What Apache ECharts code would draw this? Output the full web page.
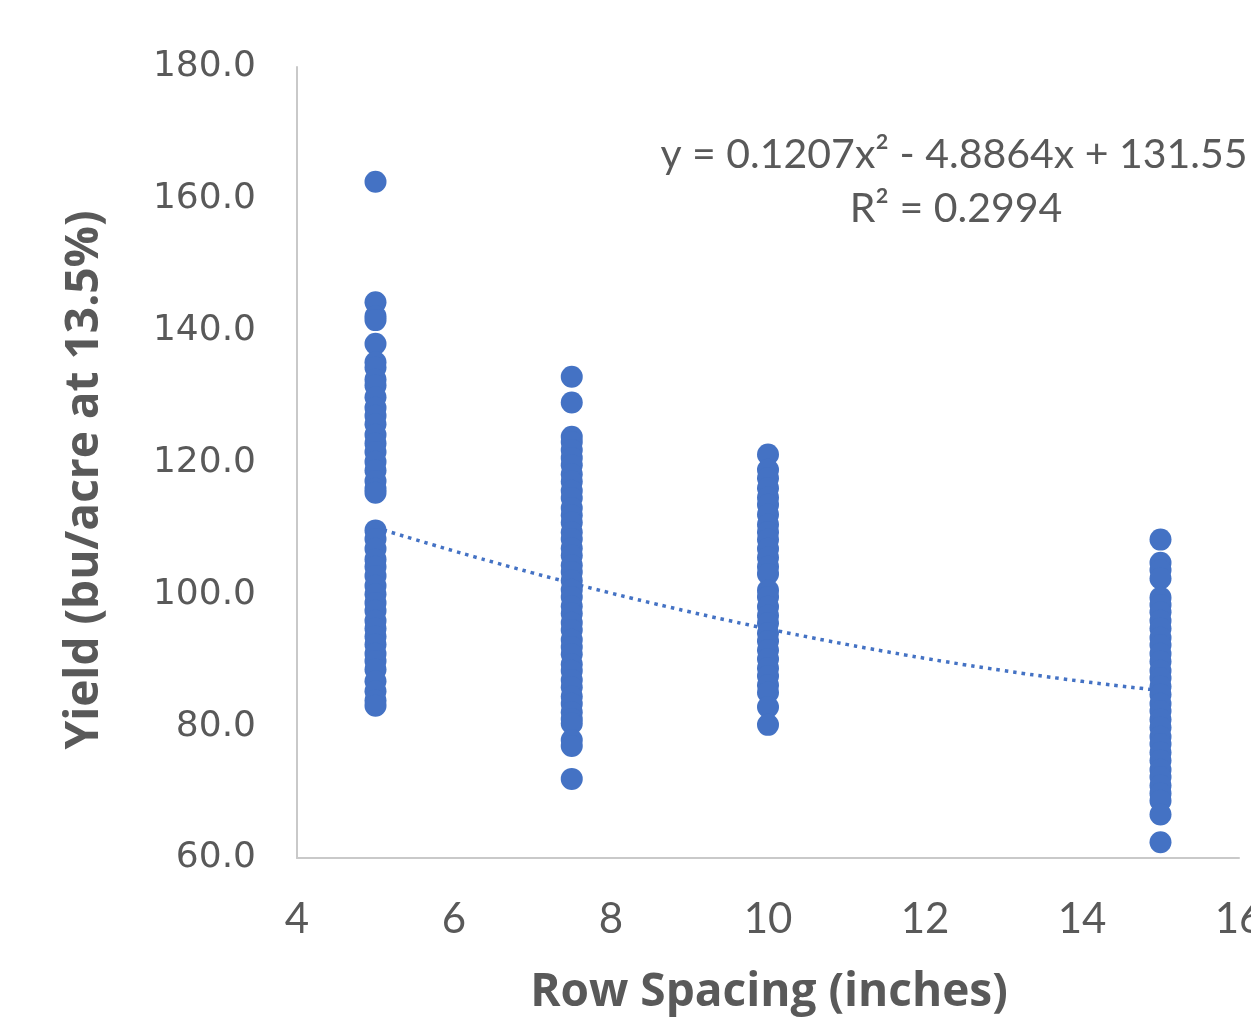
<!DOCTYPE html>
<html>
<head>
<meta charset="utf-8">
<script src="https://cdn.jsdelivr.net/npm/echarts@6/dist/echarts.min.js"></script>
<style>
  html, body { margin: 0; padding: 0; background: #fff; }
  #chart { width: 1251px; height: 1027px; }
</style>
</head>
<body>
<div id="chart"></div>
<script>
  // row spacing (inches) and the yields measured at each spacing
  const rowSpacing = [5, 7.5, 10, 15]
  const yield5 = [162.6, 144.3, 142.2, 141.6, 138.0, 135.2, 134.4, 132.6, 131.7, 129.9, 128.3, 127.1, 125.8, 124.2,
    122.9, 121.6, 120.1, 118.8, 117.2, 116.0, 115.4, 109.7, 108.4, 106.9, 105.3, 104.2, 102.8, 101.3, 100.0, 98.7,
    97.5, 96.0, 94.8, 93.6, 92.4, 91.0, 89.9, 88.6, 86.8, 85.3, 83.9, 83.1]
  const yield7_5 = [133.0, 129.1, 123.9, 123.1, 121.9, 120.7, 119.6, 118.2, 117.1, 115.7, 114.6, 113.1, 112.0, 110.9,
    109.4, 108.4, 107.0, 105.9, 104.4, 103.4, 102.1, 100.7, 99.6, 98.2, 97.1, 95.7, 94.6, 93.1, 92.0, 90.9, 89.4,
    88.4, 87.0, 85.9, 84.5, 83.4, 82.1, 81.1, 80.4, 77.9, 77.0, 72.0]
  const yield10 = [121.2, 118.9, 117.6, 116.1, 114.7, 113.6, 112.1, 110.6, 109.4, 108.3, 106.9, 105.6, 104.2, 103.1,
    100.6, 99.6, 98.1, 96.8, 95.6, 94.1, 92.9, 91.5, 90.2, 88.8, 87.6, 86.2, 85.1, 82.9, 80.2]
  const yield15 = [108.3, 104.8, 103.7, 102.4, 99.5, 98.4, 97.3, 96.0, 94.8, 93.4, 92.3, 91.0, 89.8, 88.4, 87.3, 86.0,
    84.8, 83.4, 82.3, 81.0, 79.8, 78.4, 77.3, 76.0, 74.8, 73.4, 72.3, 71.0, 69.8, 68.7, 66.6, 62.4]

  // polynomial trendline as printed on the chart: a*x^2 + b*x + c
  const trendCoef = [0.1207, -4.8864, 131.55]
  const trendRange = [5, 15]
  const equationLines = ['y = 0.1207x² - 4.8864x + 131.55', 'R² = 0.2994']

  const blue = '#4472C4'
  const grey = '#595959'

  let points = []
  ;[yield5, yield7_5, yield10, yield15].forEach(function (list, i) {
    list.forEach(function (v) {
      points.push([rowSpacing[i], v])
    })
  })

  let trend = []
  for (let x = trendRange[0]; x <= trendRange[1] + 1e-9; x += 0.25) {
    trend.push([x, trendCoef[0] * x * x + trendCoef[1] * x + trendCoef[2]])
  }

  const chart = echarts.init(document.getElementById('chart'))
  chart.setOption({
    animation: false,
    grid: {
      left: 297,
      right: 12,
      top: 67,
      bottom: 169,
      containLabel: false,
      outerBoundsMode: 'none'
    },
    xAxis: {
      type: 'value',
      min: 4,
      max: 16,
      interval: 2,
      axisLine: { onZero: false, lineStyle: { color: '#C9C9C9', width: 2 } },
      axisTick: { show: false },
      splitLine: { show: false },
      axisLabel: {
        margin: 40,
        color: grey,
        fontFamily: 'Lato',
        fontSize: 42
      }
    },
    yAxis: {
      type: 'value',
      min: 60,
      max: 180,
      interval: 20,
      axisLine: { show: true, lineStyle: { color: '#C9C9C9', width: 2 } },
      axisTick: { show: false },
      splitLine: { show: false },
      axisLabel: {
        margin: 41,
        color: grey,
        fontFamily: 'DejaVu Sans',
        fontSize: 36,
        padding: [6, 0, 0, 0],
        formatter: function (v) { return v.toFixed(1) }
      }
    },
    graphic: [
      {
        type: 'text',
        x: 85,
        y: 480,
        rotation: Math.PI / 2,
        style: {
          text: 'Yield (bu/acre at 13.5%)',
          fill: grey,
          font: 'bold 46px "Open Sans"',
          align: 'center',
          verticalAlign: 'middle'
        }
      },
      {
        type: 'text',
        x: 769,
        y: 993,
        style: {
          text: 'Row Spacing (inches)',
          fill: grey,
          font: 'bold 46px "Open Sans"',
          align: 'center',
          verticalAlign: 'middle'
        }
      },
      {
        type: 'text',
        x: 954,
        y: 155,
        style: {
          text: equationLines[0],
          fill: grey,
          font: '41px Lato',
          align: 'center',
          verticalAlign: 'middle'
        }
      },
      {
        type: 'text',
        x: 956,
        y: 209,
        style: {
          text: equationLines[1],
          fill: grey,
          font: '41px Lato',
          align: 'center',
          verticalAlign: 'middle'
        }
      }
    ],
    series: [
      {
        type: 'line',
        data: trend,
        showSymbol: false,
        smooth: true,
        silent: true,
        z: 1,
        lineStyle: { color: blue, width: 3.5, type: [3.5, 5] }
      },
      {
        type: 'scatter',
        data: points,
        symbolSize: 22,
        z: 2,
        itemStyle: { color: blue, opacity: 1 }
      }
    ]
  })
</script>
</body>
</html>
